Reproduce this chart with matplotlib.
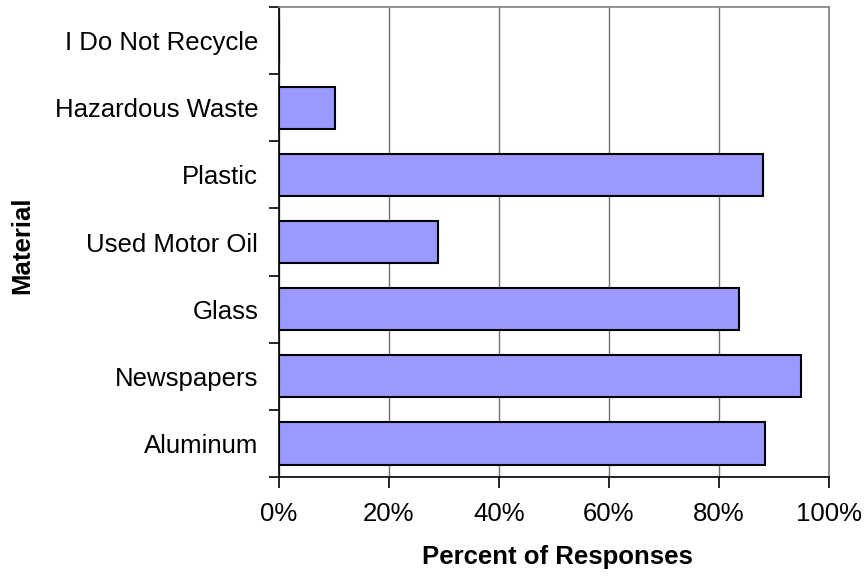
import matplotlib.pyplot as plt
import numpy as np

plt.rcParams['font.family'] = ['Liberation Sans', 'DejaVu Sans']

materials = ['Aluminum', 'Newspapers', 'Glass', 'Used Motor Oil',
             'Plastic', 'Hazardous Waste', 'I Do Not Recycle']
percents = [88.4, 94.9, 83.7, 28.9, 88.0, 10.2, 0.0]
xticks = [0, 20, 40, 60, 80, 100]

fig = plt.figure(figsize=(8.66, 5.81), dpi=100)
ax = fig.add_axes([279 / 866, 1 - 477 / 581, 550 / 866, 470 / 581])

y = np.arange(len(materials))
ax.barh(y, percents, height=0.63, color='#9999FF', edgecolor='black',
        linewidth=1.5, zorder=3)

ax.set_xlim(0, 100)
ax.set_ylim(-0.5, len(materials) - 0.5)

ax.set_xticks(xticks)
ax.set_xticklabels([f'{v}%' for v in xticks], fontsize=18.5)
ax.xaxis.grid(True, color='#707070', linewidth=1.0, zorder=0)

ax.set_yticks(np.arange(len(materials) + 1) - 0.5)
ax.set_yticklabels([])
ax.set_yticks(y, minor=True)
ax.set_yticklabels(materials, minor=True, fontsize=18.5)
ax.tick_params(axis='y', which='minor', length=0, pad=15)
ax.tick_params(axis='y', which='major', length=7, width=1.2, direction='out')
ax.tick_params(axis='x', length=8, width=1.2, direction='out', pad=10)

for side in ['top', 'right']:
    ax.spines[side].set_color('#808080')
    ax.spines[side].set_linewidth(1.2)
for side in ['left', 'bottom']:
    ax.spines[side].set_color('black')
    ax.spines[side].set_linewidth(1.2)

fig.text(557 / 866, 1 - 557 / 581, 'Percent of Responses', ha='center',
         va='center', fontsize=18.5, fontweight='bold')
fig.text(22 / 866, 1 - 245 / 581, 'Material', ha='center', va='center',
         rotation=90, fontsize=18.5, fontweight='bold')

fig.savefig('out.png', dpi=100)
